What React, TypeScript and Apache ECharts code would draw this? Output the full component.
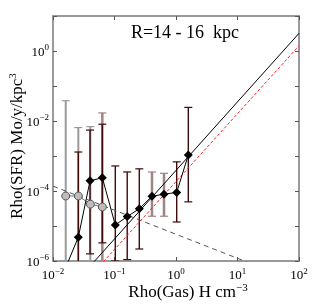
import React, { useEffect, useRef } from "react";
import * as echarts from "echarts";

const FONT = "'Liberation Serif', 'Times New Roman', serif";

// black diamonds (connected)
const blackX = [0.0161, 0.0258, 0.04, 0.0634, 0.103, 0.161, 0.253, 0.407, 0.638, 1.026, 1.585];
const blackY = [6.5e-7, 4.8e-6, 1.95e-4, 2.4e-4, 1.07e-5, 1.86e-5, 3.1e-5, 7.1e-5, 8.1e-5, 9.1e-5, 1.07e-3];

// gray circles (connected)
const grayX = [0.0161, 0.0258, 0.0405, 0.0634];
const grayY = [7.2e-5, 7.2e-5, 4.2e-5, 3.5e-5];

// error bars [x, low, high]
const darkBars = [
  [0.0258, 1e-7, 1.3e-3],
  [0.04, 1.6e-6, 5.5e-3],
  [0.0634, 3.3e-6, 8.1e-3],
  [0.103, 1e-6, 5.2e-4],
  [0.161, 1.1e-6, 3.5e-4],
  [0.253, 2.2e-6, 4.3e-4],
  [1.026, 1.3e-5, 6.8e-4],
  [1.585, 4.9e-5, 2.45e-2],
];
const rosyBars = [
  [0.0634, 1e-7, 1.7e-2],
  [0.407, 1.9e-5, 3.5e-4],
  [0.638, 1.9e-5, 3.2e-4],
];
const grayBars = [
  [0.0161, 1e-7, 3.8e-2],
  [0.0258, 1e-7, 6.5e-3],
  [0.0405, 1e-7, 6.9e-3],
];

// model lines: [x, y] end points
const solidLine = [[0.01, 4.7e-8], [100, 3.2]];
const redDashLine = [[0.01, 2.45e-8], [100, 1.41]];
const grayDashLine = [[0.01, 1.38e-4], [100, 2.45e-7]];

const yLabelExps = [-6, -4, -2, 0];

const supLabel = (v: number) => {
  const e = Math.round(Math.log10(v));
  return `{b|10}{s|${e < 0 ? "\u2212" + -e : e}}`;
};
const rich = {
  b: { fontSize: 13, fontFamily: FONT, color: "#000" },
  s: { fontSize: 9, fontFamily: FONT, color: "#000", padding: [0, 0, 8, 0] },
};

function errBar(color: string, width: number) {
  return (params: any, api: any) => {
    const x = api.value(0);
    const lo = api.coord([x, api.value(1)]);
    const hi = api.coord([x, api.value(2)]);
    const w = 4;
    const st = { stroke: color, lineWidth: width };
    const cs = { stroke: color, lineWidth: 1.2 };
    return {
      type: "group",
      children: [
        { type: "line", shape: { x1: lo[0], y1: lo[1], x2: hi[0], y2: hi[1] }, style: st },
        { type: "line", shape: { x1: hi[0] - w, y1: hi[1], x2: hi[0] + w, y2: hi[1] }, style: cs },
        { type: "line", shape: { x1: lo[0] - w, y1: lo[1], x2: lo[0] + w, y2: lo[1] }, style: cs },
      ],
    };
  };
}

export default function App() {
  const ref = useRef<HTMLDivElement>(null);
  useEffect(() => {
    const chart = echarts.init(ref.current!, null, { renderer: "svg" });
    const axisLine = { show: true, lineStyle: { color: "#9a9a9a", width: 2 } };
    const axisTick = { show: true, inside: true, length: 4, lineStyle: { color: "#555", width: 1 } };
    chart.setOption({
      animation: false,
      grid: { left: 53, right: 28, top: 16, bottom: 45, containLabel: false },
      xAxis: [
        {
          type: "log", logBase: 10, min: 0.01, max: 100, splitNumber: 4,
          axisLine, axisTick, splitLine: { show: false }, minorTick: { show: false },
          axisLabel: { margin: 5, formatter: supLabel, rich },
        },
        {
          type: "log", logBase: 10, min: 0.01, max: 100, splitNumber: 4, position: "top",
          axisLine, axisTick, splitLine: { show: false }, axisLabel: { show: false },
        },
      ],
      yAxis: [
        {
          type: "log", logBase: 10, min: 1e-6, max: 10, splitNumber: 7,
          axisLine, axisTick, splitLine: { show: false },
          axisLabel: {
            margin: 4,
            formatter: (v: number) => {
              const e = Math.round(Math.log10(v));
              return yLabelExps.includes(e) ? supLabel(v) : "";
            },
            rich,
          },
        },
        {
          type: "log", logBase: 10, min: 1e-6, max: 10, splitNumber: 7, position: "right",
          axisLine, axisTick, splitLine: { show: false }, axisLabel: { show: false },
        },
      ],
      series: [
        { type: "custom", clip: true, renderItem: errBar("#9a9a9a", 2), data: grayBars, encode: { x: 0, y: [1, 2] }, z: 1 },
        { type: "custom", clip: true, renderItem: errBar("#a08585", 2.5), data: rosyBars, encode: { x: 0, y: [1, 2] }, z: 1 },
        { type: "custom", clip: true, renderItem: errBar("#3f0a0a", 1.4), data: darkBars, encode: { x: 0, y: [1, 2] }, z: 2 },
        {
          type: "line", data: grayDashLine, showSymbol: false, clip: true, z: 3,
          lineStyle: { color: "#555", width: 1, type: [5, 4] },
        },
        {
          type: "line", data: solidLine, showSymbol: false, clip: true, z: 3,
          lineStyle: { color: "#000", width: 1 },
        },
        {
          type: "line", data: redDashLine, showSymbol: false, clip: true, z: 3,
          lineStyle: { color: "#ff2020", width: 1, type: [3, 2] },
        },
        {
          type: "line", data: grayX.map((x, i) => [x, grayY[i]]), clip: true, z: 4,
          symbol: "circle", symbolSize: 8,
          itemStyle: { color: "#bdbdbd", borderColor: "#555", borderWidth: 1 },
          lineStyle: { color: "#777", width: 1 },
        },
        {
          type: "line", data: blackX.map((x, i) => [x, blackY[i]]), clip: true, z: 5,
          symbol: "diamond", symbolSize: 9,
          itemStyle: { color: "#000" },
          lineStyle: { color: "#000", width: 1 },
        },
      ],
      graphic: [
        {
          type: "text", x: 185, y: 32,
          style: { text: "R=14 - 16  kpc", font: `18px ${FONT}`, fill: "#000", align: "center", verticalAlign: "middle" },
        },
        {
          type: "text", x: 188, y: 291,
          style: {
            text: "{a|Rho(Gas) H cm}{s|\u22123}", align: "center", verticalAlign: "middle",
            rich: {
              a: { fontSize: 17, fontFamily: FONT, fill: "#000" },
              s: { fontSize: 11, fontFamily: FONT, fill: "#000", padding: [0, 0, 8, 0] },
            },
          },
        },
        {
          type: "text", x: 16, y: 146, rotation: Math.PI / 2,
          style: {
            text: "{a|Rho(SFR) Mo/y/kpc}{s|3}", align: "center", verticalAlign: "middle",
            rich: {
              a: { fontSize: 17, fontFamily: FONT, fill: "#000" },
              s: { fontSize: 11, fontFamily: FONT, fill: "#000", padding: [0, 0, 9, 0] },
            },
          },
        },
      ],
    });
    return () => chart.dispose();
  }, []);
  return <div ref={ref} style={{ position: "fixed", left: 0, top: 0, width: 327, height: 306 }} />;
}
